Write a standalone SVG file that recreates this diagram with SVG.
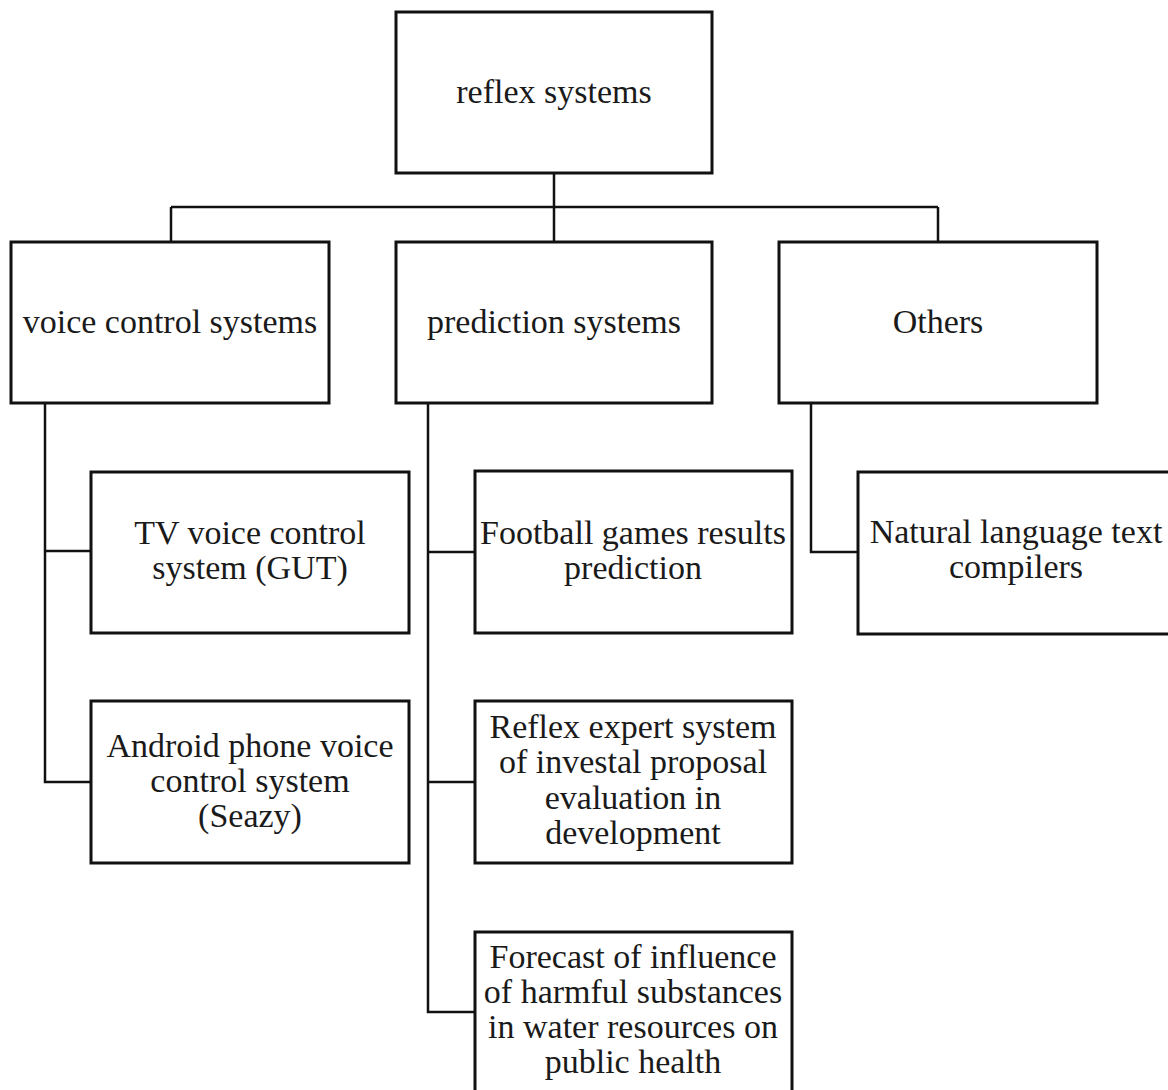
<svg xmlns="http://www.w3.org/2000/svg" width="1168" height="1090" viewBox="0 0 1168 1090">
<style>
.box{fill:#fff;stroke:#111;stroke-width:3}
.lbl{font-family:"Liberation Serif","Times New Roman",serif;font-size:34px;fill:#1a1a1a;text-anchor:middle}
.con{fill:none;stroke:#111;stroke-width:2.5}
</style>
<rect width="1168" height="1090" fill="#fff"/>
<g id="connectors">
<path class="con" d="M554 173V207M171 207H938M171 207V242M554 207V242M938 207V242"/>
<path class="con" d="M45 403V782H91M45 551H91"/>
<path class="con" d="M428 403V1012H475M428 552H475M428 782H475"/>
<path class="con" d="M811 403V552H858"/>
</g>
<g id="root"><rect class="box" x="396" y="12" width="316" height="161"/><text class="lbl" x="554" y="103">reflex systems</text></g>
<g id="voice"><rect class="box" x="11" y="242" width="318" height="161"/><text class="lbl" x="170" y="333">voice control systems</text></g>
<g id="prediction"><rect class="box" x="396" y="242" width="316" height="161"/><text class="lbl" x="554" y="333">prediction systems</text></g>
<g id="others"><rect class="box" x="779" y="242" width="318" height="161"/><text class="lbl" x="938" y="333">Others</text></g>
<g id="tv"><rect class="box" x="91" y="472" width="318" height="161"/><text class="lbl" x="250" y="544">TV voice control<tspan x="250" dy="35">system (GUT)</tspan></text></g>
<g id="android"><rect class="box" x="91" y="701" width="318" height="162"/><text class="lbl" x="250" y="757">Android phone voice<tspan x="250" dy="35">control system</tspan><tspan x="250" dy="35">(Seazy)</tspan></text></g>
<g id="football"><rect class="box" x="475" y="471" width="317" height="162"/><text class="lbl" x="633" y="544">Football games results<tspan x="633" dy="35">prediction</tspan></text></g>
<g id="reflex"><rect class="box" x="475" y="701" width="317" height="162"/><text class="lbl" x="633" y="738">Reflex expert system<tspan x="633" dy="35">of investal proposal</tspan><tspan x="633" dy="36">evaluation in</tspan><tspan x="633" dy="35">development</tspan></text></g>
<g id="forecast"><rect class="box" x="475" y="932" width="317" height="164"/><text class="lbl" x="633" y="968">Forecast of influence<tspan x="633" dy="35">of harmful substances</tspan><tspan x="633" dy="35">in water resources on</tspan><tspan x="633" dy="35">public health</tspan></text></g>
<g id="natural"><rect class="box" x="858" y="472" width="318" height="162"/><text class="lbl" x="1016" y="543">Natural language text<tspan x="1016" dy="35">compilers</tspan></text></g>
</svg>
